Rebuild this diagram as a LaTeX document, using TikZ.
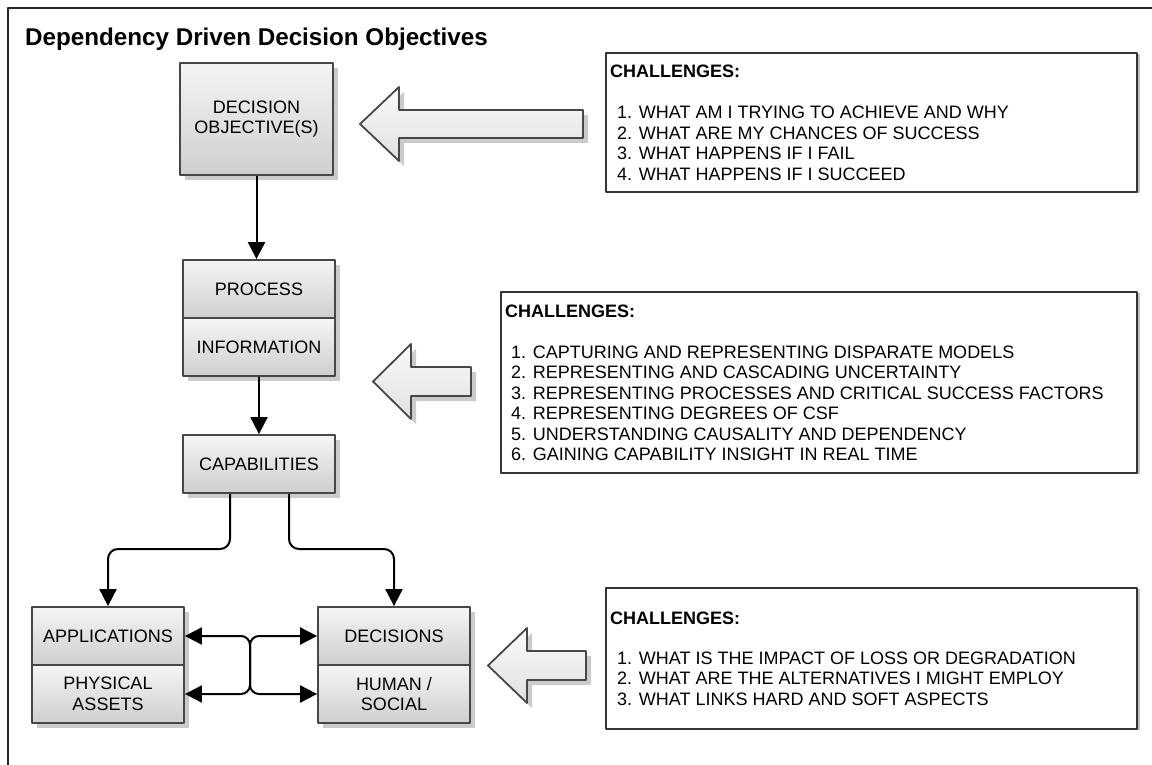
\documentclass[tikz,border=0pt]{standalone}
\usepackage{fontspec}
\setmainfont{Liberation Sans}
\usetikzlibrary{arrows.meta,shadows,calc}
\begin{document}
\begin{tikzpicture}[x=1pt,y=-1pt,line join=round,
  every node/.style={font=\fontsize{18}{20.5}\selectfont},
  blk/.style={draw=black!72, line width=1.8pt, top color=black!4, bottom color=black!19,
    minimum width=152pt, minimum height=58pt, inner sep=0pt, align=center,
    drop shadow={shadow xshift=5pt, shadow yshift=-5pt, fill=black!40, opacity=0.5}},
  bigarr/.style={draw=black!72, line width=1.8pt, top color=black!2, bottom color=black!12,
    drop shadow={shadow xshift=5pt, shadow yshift=-5pt, fill=black!40, opacity=0.5}},
  chal/.style={draw=black!80, line width=1.4pt, fill=white, inner sep=0pt,
    drop shadow={shadow xshift=3pt, shadow yshift=-1pt, fill=black!40, opacity=0.6}},
  ctext/.style={anchor=base west, inner sep=0pt},
  chead/.style={anchor=base west, inner sep=0pt, font=\fontsize{18}{20.5}\selectfont\bfseries},
  conn/.style={draw=black, line width=2pt, -{Triangle[length=17pt,width=17pt]}},
  dconn/.style={draw=black, line width=2pt, {Triangle[length=17pt,width=17pt]}-{Triangle[length=17pt,width=17pt]}, rounded corners=9pt}
]
\useasboundingbox (0,0) rectangle (1152,765);
\fill[white] (0,0) rectangle (1152,765);
\draw[black!85, line width=1.5pt] (8,765) -- (8,8) -- (1152,8);

\node[anchor=base west, inner sep=0pt, font=\fontsize{24.2}{28}\selectfont\bfseries] (title) at (25,46) {Dependency Driven Decision Objectives};

% main blocks
\node[blk, minimum width=153pt, minimum height=112pt] (dec) at (256.5,119) {DECISION\\OBJECTIVE(S)};
\node[blk] (proc) at (259,289) {PROCESS};
\node[blk] (info) at (259,347) {INFORMATION};
\node[blk] (cap) at (259,464) {CAPABILITIES};
\node[blk] (app) at (108,636) {APPLICATIONS};
\node[blk] (phys) at (108,694) {PHYSICAL\\ASSETS};
\node[blk] (decs) at (394,636) {DECISIONS};
\node[blk] (hum) at (394,694) {HUMAN /\\SOCIAL};

% connectors
\draw[conn] (dec.south) -- (dec.south |- proc.north);
\draw[conn] (info.south) -- (cap.north);
\coordinate (jl) at (230,549);
\coordinate (jr) at (289,549);
\draw[conn, rounded corners=10pt] (cap.south -| jl) -- (jl) -| (app.north);
\draw[conn, rounded corners=10pt] (cap.south -| jr) -- (jr) -| (decs.north);
\coordinate (mx) at (250,0);
\draw[dconn] (app.east) -- (app.east -| mx) -- (hum.west -| mx) -- (hum.west);
\draw[dconn] (phys.east) -- (phys.east -| mx) -- (decs.west -| mx) -- (decs.west);

% challenge boxes
\node[chal, minimum width=531pt, minimum height=139pt] (ch1) at (871.5,122.5) {};
\node[chal, minimum width=636pt, minimum height=181pt] (ch2) at (819,382.5) {};
\node[chal, minimum width=531pt, minimum height=141pt] (ch3) at (871.5,658.5) {};

% big arrows
\path[bigarr] (583,110) -- (399,110) -- (399,87) -- (360,124) -- (399,161) -- (399,138) -- (583,138) -- cycle;
\path[bigarr] (471,367) -- (411,367) -- (411,344) -- (373,381.5) -- (411,419) -- (411,396) -- (471,396) -- cycle;
\path[bigarr] (586,651) -- (527,651) -- (527,628) -- (488,665.5) -- (527,703) -- (527,680) -- (586,680) -- cycle;

% texts box 1
\node[chead] (h1) at (610,78) {CHALLENGES:};
\node[ctext] (a1) at (617,119) {1. WHAT AM I TRYING TO ACHIEVE AND WHY};
\node[ctext] (a2) at (617,139.5) {2. WHAT ARE MY CHANCES OF SUCCESS};
\node[ctext] (a3) at (617,160) {3. WHAT HAPPENS IF I FAIL};
\node[ctext] (a4) at (617,180.5) {4. WHAT HAPPENS IF I SUCCEED};

% texts box 2
\node[chead] (h2) at (505,317) {CHALLENGES:};
\node[ctext] (b1) at (511,358) {1. CAPTURING AND REPRESENTING DISPARATE MODELS};
\node[ctext] (b2) at (511,378.5) {2. REPRESENTING AND CASCADING UNCERTAINTY};
\node[ctext] (b3) at (511,399) {3. REPRESENTING PROCESSES AND CRITICAL SUCCESS FACTORS};
\node[ctext] (b4) at (511,419.5) {4. REPRESENTING DEGREES OF CSF};
\node[ctext] (b5) at (511,440) {5. UNDERSTANDING CAUSALITY AND DEPENDENCY};
\node[ctext] (b6) at (511,460.5) {6. GAINING CAPABILITY INSIGHT IN REAL TIME};

% texts box 3
\node[chead] (h3) at (610,624) {CHALLENGES:};
\node[ctext] (c1) at (617,664) {1. WHAT IS THE IMPACT OF LOSS OR DEGRADATION};
\node[ctext] (c2) at (617,684.5) {2. WHAT ARE THE ALTERNATIVES I MIGHT EMPLOY};
\node[ctext] (c3) at (617,705) {3. WHAT LINKS HARD AND SOFT ASPECTS};
\end{tikzpicture}
\end{document}
